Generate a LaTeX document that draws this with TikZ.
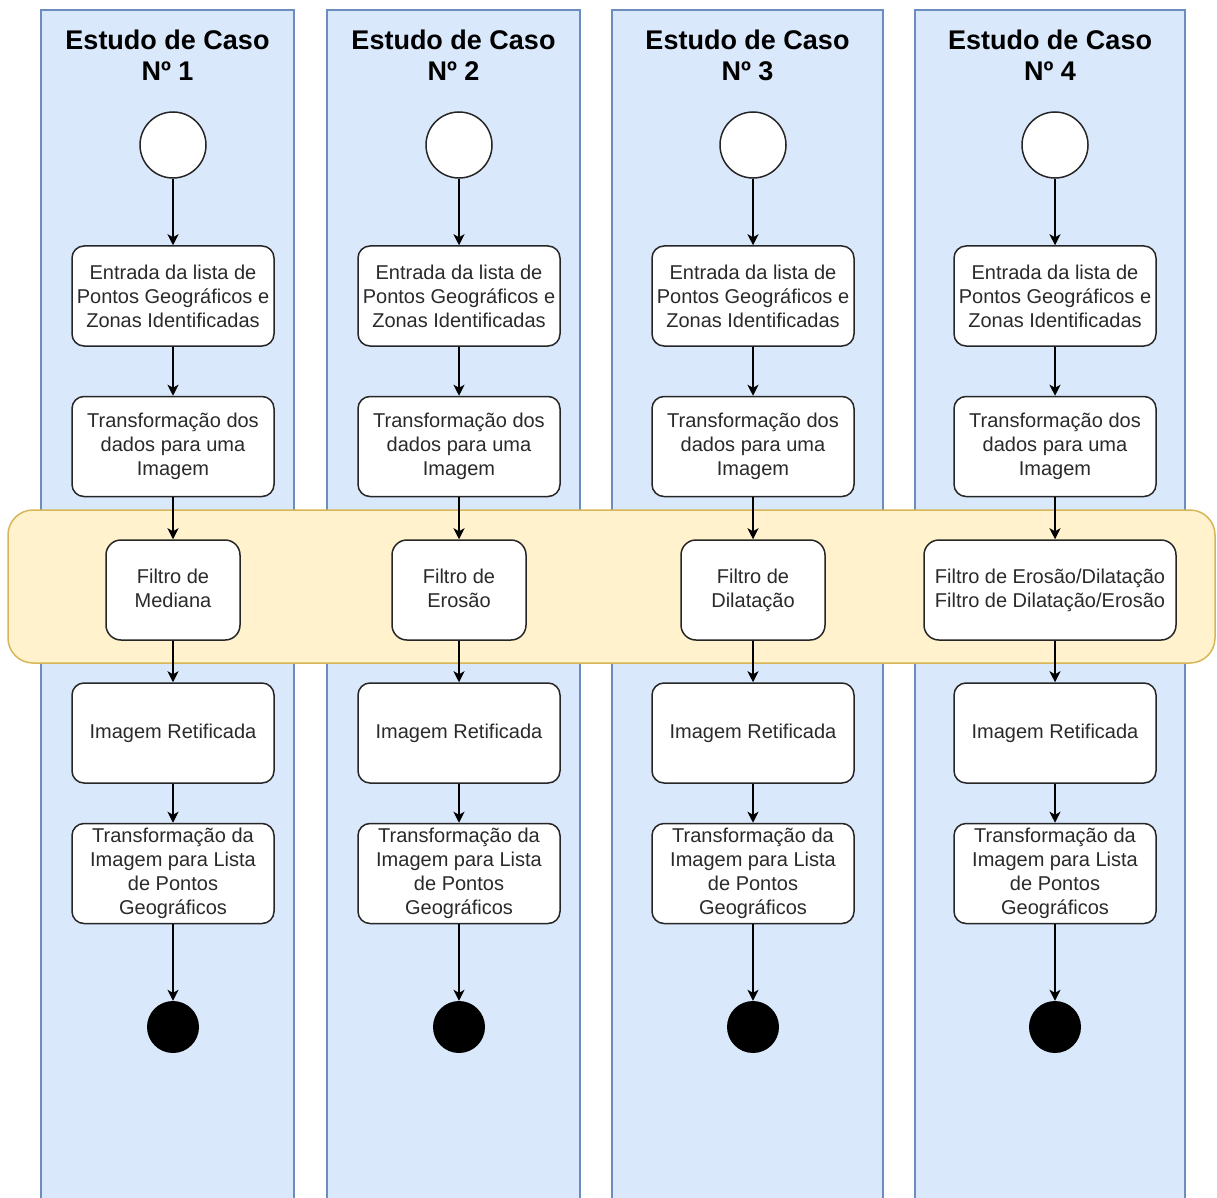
\documentclass[tikz,border=0pt]{standalone}
\usepackage{fontspec}
\setmainfont{Liberation Sans}
\usetikzlibrary{arrows.meta}
\definecolor{lanefill}{HTML}{DAE8FC}
\definecolor{lanedraw}{HTML}{6C8EBF}
\definecolor{bandfill}{HTML}{FFF2CC}
\definecolor{banddraw}{HTML}{D6B656}
\definecolor{txt}{HTML}{2A2A2A}
\tikzset{
 lane/.style={fill=lanefill, draw=lanedraw, line width=2.5pt},
 band/.style={fill=bandfill, draw=banddraw, line width=1.5pt, rounded corners=25pt},
 act/.style={draw=black!85, fill=white, line width=1.5pt, rounded corners=12pt,
   minimum width=202pt, minimum height=100pt, inner sep=0pt, align=center,
   font=\fontsize{20}{24}\selectfont, text=txt},
 filt/.style={act, rounded corners=15pt},
 startnode/.style={circle, draw=black!85, fill=white, line width=1.5pt, minimum size=66pt, inner sep=0pt},
 endnode/.style={circle, fill=black, minimum size=52pt, inner sep=0pt},
 flow/.style={draw=black, line width=1.5pt, -{Stealth[length=11pt,width=11pt,inset=3pt]}},
 lanetitle/.style={align=center, font=\bfseries\fontsize{27}{31}\selectfont, text=black}
}
\begin{document}
\begin{tikzpicture}[x=1pt,y=-1pt]
\useasboundingbox (0,0) rectangle (1217,1198);
\clip (0,0) rectangle (1217,1198);
% lanes
\foreach \i/\l/\r in {1/41/294, 2/327/580, 3/612/883, 4/915/1185}{
  \path[lane] (\l,10) rectangle (\r,1215);
  \node[lanetitle] (title\i) at ({(\l+\r)/2},55) {Estudo de Caso\\Nº \i};
}
% band of filters
\path[band] (8,510) rectangle (1215,663);
% flows
\foreach \i/\c/\fc/\fw/\fy/\ft in {1/173/173/134/588/{Filtro de\\Mediana},
                             2/459/459/134/588/{Filtro de\\Erosão},
                             3/753/753/144/590/{Filtro de\\Dilatação},
                             4/1055/1050/252/590/{Filtro de Erosão/Dilatação\\Filtro de Dilatação/Erosão}}{
  \node[startnode] (s\i) at (\c,145) {};
  \node[act] (e\i) at (\c,296) {Entrada da lista de\\Pontos Geográficos e\\Zonas Identificadas};
  \node[act] (t\i) at (\c,446.5) {Transformação dos\\dados para uma\\Imagem};
  \node[filt, minimum width=\fw pt, minimum height=100pt] (f\i) at (\fc,590) {};
  \node[align=center, font=\fontsize{20}{24}\selectfont, text=txt, inner sep=0pt] (ft\i) at (\fc,\fy) {\ft};
  \node[act] (r\i) at (\c,733) {Imagem Retificada};
  \node[act] (p\i) at (\c,873.5) {Transformação da\\Imagem para Lista\\de Pontos\\Geográficos};
  \node[endnode] (z\i) at (\c,1027) {};
  \draw[flow] (s\i) -- (e\i);
  \draw[flow] (e\i) -- (t\i);
  \draw[flow] (t\i.south) -- (t\i.south |- f\i.north);
  \draw[flow] (r\i.north |- f\i.south) -- (r\i.north);
  \draw[flow] (r\i) -- (p\i);
  \draw[flow] (p\i) -- (z\i);
}
\end{tikzpicture}
\end{document}
